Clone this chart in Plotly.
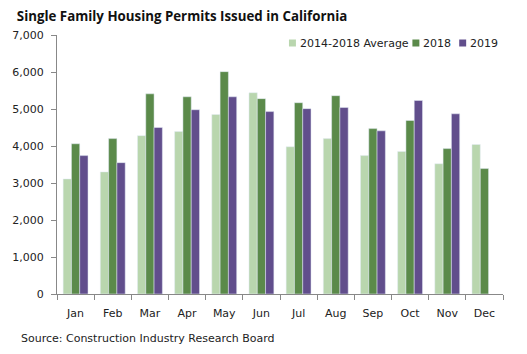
import plotly.graph_objects as go

months = ["Jan", "Feb", "Mar", "Apr", "May", "Jun", "Jul", "Aug", "Sep", "Oct", "Nov", "Dec"]
avg_2014_2018 = [3110, 3300, 4280, 4390, 4850, 5440, 3980, 4200, 3740, 3850, 3520, 4040]
y2018 = [4060, 4200, 5410, 5330, 6010, 5280, 5170, 5360, 4470, 4690, 3930, 3390]
y2019 = [3740, 3550, 4500, 4980, 5330, 4930, 5010, 5040, 4410, 5230, 4870, None]
y_ticks = [0, 1000, 2000, 3000, 4000, 5000, 6000, 7000]
series_names = ["2014-2018 Average", "2018", "2019"]
series_colors = ["#b9d6ae", "#5b8a4a", "#614e8c"]

L, R, T, B, W, H = 55, 24, 35, 60, 527, 354
PW, PH = W - L - R, H - T - B

fig = go.Figure()
for name, vals, col in zip(series_names, [avg_2014_2018, y2018, y2019], series_colors):
    fig.add_trace(go.Bar(x=months, y=vals, name=name, marker_color=col, showlegend=False))

font = "Verdana, DejaVu Sans, sans-serif"
fig.update_layout(
    width=W, height=H,
    margin=dict(l=L, r=R, t=T, b=B),
    paper_bgcolor="white", plot_bgcolor="white",
    barmode="group", bargap=0.33, bargroupgap=0,
    font=dict(family=font, size=11, color="#222"),
    title=dict(text="<b>Single Family Housing Permits Issued in California</b>",
               x=0.032, xanchor="left", y=0.955, yanchor="middle",
               font=dict(family="Open Sans, sans-serif", size=13.3, color="#111")),
    showlegend=False,
)
fig.update_xaxes(showline=True, linecolor="#888", linewidth=1, ticks="outside",
                 tickson="boundaries", ticklen=5, tickcolor="#888", showgrid=False,
                 ticklabelstandoff=9)
fig.update_yaxes(range=[0, 7000], tickvals=y_ticks, tickformat=",", showline=True,
                 linecolor="#888", linewidth=1, ticks="outside", ticklen=5,
                 tickcolor="#888", showgrid=False, zeroline=False, ticklabelstandoff=5)

# manual legend (Excel-like compact layout)
legend_px = [288, 412, 459]
legend_y_px = 43
for px, name, col in zip(legend_px, series_names, series_colors):
    x0 = (px - L) / PW
    x1 = (px + 7 - L) / PW
    yc = 1 + (T - legend_y_px) / PH
    fig.add_shape(type="rect", xref="paper", yref="paper", x0=x0, x1=x1,
                  y0=yc - 3.5 / PH, y1=yc + 3.5 / PH, fillcolor=col, line_width=0)
    fig.add_annotation(text=name, xref="paper", yref="paper", x=(px + 9 - L) / PW, y=yc,
                       xanchor="left", yanchor="middle", showarrow=False,
                       font=dict(family=font, size=11, color="#222"))

fig.add_annotation(text="Source: Construction Industry Research Board", xref="paper", yref="paper",
                   x=(17 - L) / PW, y=-(338 - (H - B)) / PH, xanchor="left", yanchor="middle",
                   showarrow=False, font=dict(family=font, size=11, color="#222"))
fig.write_html("out.html")
